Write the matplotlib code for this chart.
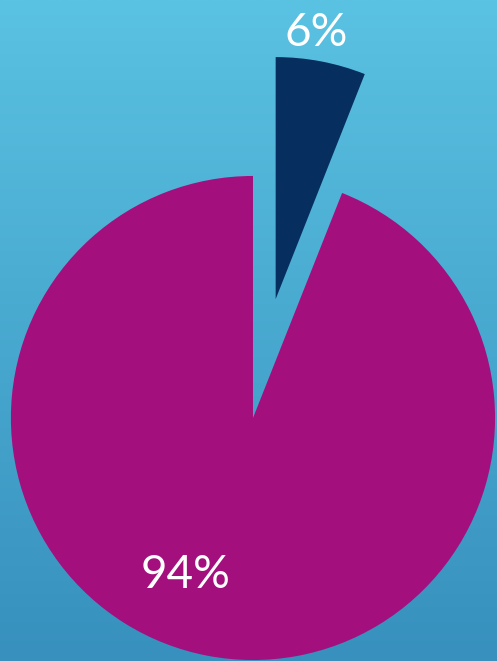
import matplotlib
matplotlib.use('Agg')
import matplotlib.pyplot as plt
import numpy as np
from matplotlib.colors import LinearSegmentedColormap

# Share of respondents
labels = ['6%', '94%']
values = [6, 94]
colors = ['#062f60', '#a40f7e']
explode = [0.5, 0]

fig = plt.figure(figsize=(4.97, 6.61), dpi=100)
ax = fig.add_axes([0, 0, 1, 1])

# background gradient, light blue top -> darker blue bottom
bg = LinearSegmentedColormap.from_list('bg', ['#3790bd', '#5ac2e2'])
grad = np.linspace(0, 1, 256).reshape(-1, 1)
ax.imshow(grad, cmap=bg, origin='lower', aspect='auto',
          extent=[-1.045, 1.008, -1.004, 1.727], zorder=0)

wedges, _ = ax.pie(values, colors=colors, explode=explode, startangle=90,
                   counterclock=False, radius=1.0,
                   wedgeprops=dict(linewidth=0, zorder=2))

ax.set_xlim(-1.045, 1.008)
ax.set_ylim(-1.004, 1.727)
ax.set_aspect('auto')
ax.axis('off')

# labels
ax.text(0.26, 1.59, labels[0], color='white', fontsize=33, family='Lato',
        fontweight='normal', ha='center', va='center', zorder=3)
ax.text(-0.277, -0.649, labels[1], color='white', fontsize=33, family='Lato',
        fontweight='normal', ha='center', va='center', zorder=3)

plt.savefig('out.png', dpi=100)
